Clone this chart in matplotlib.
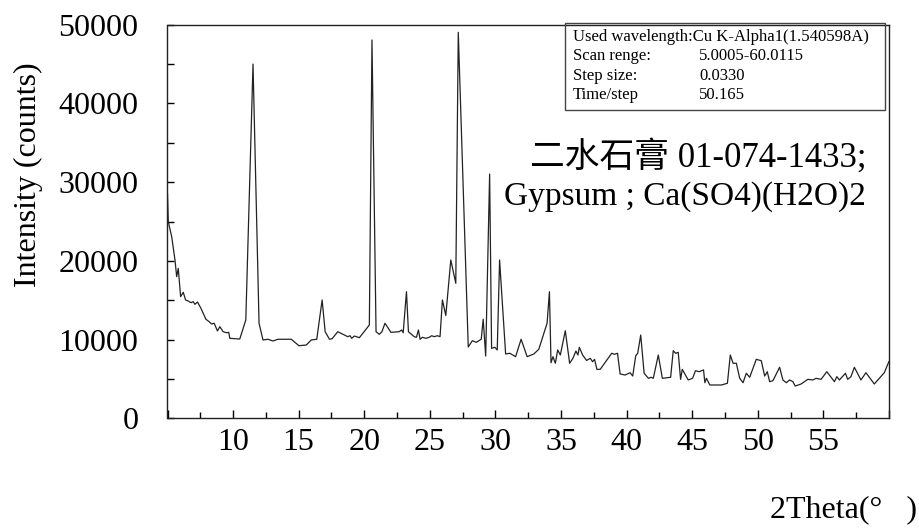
import matplotlib
matplotlib.use('Agg')
import matplotlib.pyplot as plt
from matplotlib.patches import Rectangle

plt.rcParams['font.family'] = ['Liberation Serif', 'Noto Sans CJK SC']

# values
two_theta = [5.00, 5.06, 5.32, 5.57, 5.70, 5.82, 6.00, 6.20, 6.38, 6.58, 6.79, 6.96, 7.09, 7.29,
             7.55, 7.93, 8.18, 8.36, 8.56, 8.81, 8.99, 9.24, 9.50, 9.67, 9.75, 10.51, 10.97, 11.52,
             11.98, 12.28, 12.66, 13.04, 13.42, 14.44, 15.02, 15.58, 15.96, 16.38, 16.79, 17.02,
             17.35, 17.55, 17.98, 18.49, 18.74, 18.92, 19.04, 19.25, 19.63, 20.39, 20.59, 20.90,
             21.15, 21.35, 21.58, 22.04, 22.67, 22.84, 22.97, 23.22, 23.37, 23.81, 23.98, 24.13,
             24.26, 24.44, 24.70, 24.95, 25.15, 25.33, 25.58, 25.78, 25.96, 26.22, 26.60, 26.98,
             27.17, 27.93, 28.24, 28.54, 28.92, 29.07, 29.26, 29.56, 29.71, 29.96, 30.14, 30.32,
             30.78, 31.10, 31.54, 31.96, 32.42, 32.93, 33.31, 33.94, 34.12, 34.24, 34.39, 34.57,
             34.75, 34.95, 35.33, 35.66, 35.91, 36.14, 36.29, 36.40, 36.65, 36.95, 37.23, 37.41,
             37.56, 37.74, 37.99, 38.87, 39.08, 39.31, 39.51, 39.89, 40.27, 40.47, 40.70, 40.85,
             41.08, 41.34, 41.67, 41.87, 42.04, 42.42, 42.73, 43.36, 43.56, 43.74, 43.94, 44.12,
             44.25, 44.70, 45.03, 45.26, 45.52, 45.87, 45.97, 46.09, 46.35, 47.23, 47.69, 47.91,
             48.12, 48.37, 48.63, 48.88, 49.13, 49.39, 49.89, 50.27, 50.53, 50.73, 50.91, 51.16,
             51.67, 51.92, 52.18, 52.43, 52.68, 52.86, 53.31, 53.82, 54.20, 54.45, 54.83, 55.27,
             55.60, 55.85, 56.03, 56.23, 56.69, 56.86, 57.11, 57.37, 57.87, 58.25, 58.89, 59.65,
             60.00]
counts = [28500, 24970, 23070, 20110, 17990, 19050, 15450, 16010, 15030, 14900, 14690, 14810, 14480, 14770,
          13970, 12580, 12270, 11980, 12070, 11090, 11640, 11000, 10870, 10920, 10160, 10070, 12490, 45000,
          12070, 9950, 10040, 9820, 10040, 10040, 9220, 9310, 9950, 10040, 15030, 11000,
          10040, 10110, 11000, 10580, 10370, 10490, 10160, 10450, 10240, 11850, 48060, 11000,
          10670, 11000, 12070, 10920, 11000, 11220, 10870, 16080, 11000, 10370, 10290, 11220,
          10040, 10290, 10160, 10290, 10490, 10370, 10490, 10370, 15030, 13060, 20110, 17150,
          49030, 9060, 9860, 9650, 10040, 12580, 7910, 31030, 8890, 9020, 8680, 20110,
          8170, 8260, 7830, 10040, 7830, 8170, 8770, 12070, 16080, 7060, 7830, 6990,
          8680, 8040, 11130, 6990, 7620, 8550, 8040, 9020, 8040, 7350, 7620, 7190,
          7490, 6220, 6220, 8260, 8130, 8260, 5630, 5500, 5790, 5370, 7950, 8260,
          10580, 5720, 5080, 5210, 5080, 8040, 5080, 5210, 8590, 8260, 8380, 4950,
          6220, 4870, 5080, 6050, 5920, 6140, 4520, 5080, 4230, 4230, 4450, 8040,
          6990, 6990, 5080, 4520, 5720, 5210, 7490, 7320, 5370, 5920, 4650, 4780,
          6480, 4870, 4520, 4870, 4650, 4100, 4360, 4950, 4870, 5080, 4950, 5920,
          5210, 4650, 5290, 4870, 5720, 4950, 5290, 6480, 4870, 5790, 4360, 5790,
          7190]

x_ticks = [5, 10, 15, 20, 25, 30, 35, 40, 45, 50, 55, 60]
x_labels = ['', '10', '15', '20', '25', '30', '35', '40', '45', '50', '55', '']
y_ticks = [0, 10000, 20000, 30000, 40000, 50000]

info_names = ['Used wavelength:Cu K-Alpha1(1.540598A)', 'Scan renge:', 'Step size:', 'Time/step']
info_values = ['', '5.0005-60.0115', '0.0330', '50.165']

W, H = 920, 530
fig = plt.figure(figsize=(W / 100, H / 100), dpi=100)
ax = fig.add_axes([167.5 / W, 1 - 418.3 / H, (889 - 167.5) / W, (418.3 - 24.7) / H])

ax.plot(two_theta, counts, color='#222222', lw=0.9)
ax.set_xlim(5, 60.01)
ax.set_ylim(0, 50000)

ax.set_xticks(x_ticks, x_labels)
ax.set_xticks([t + 2.5 for t in x_ticks[:-1]], minor=True)
ax.set_yticks(y_ticks, [str(v) for v in y_ticks])
ax.set_yticks([v + 5000 for v in y_ticks[:-1]], minor=True)
ax.tick_params(axis='x', which='major', direction='in', length=6, width=1, labelsize=23, pad=7)
ax.tick_params(axis='x', which='minor', direction='in', length=4.5, width=1)
ax.tick_params(axis='y', which='both', direction='in', length=5, width=1, labelsize=23, pad=21)
for s in ax.spines.values():
    s.set_linewidth(1)
    s.set_color('#222222')

fig.text(28 / W, 1 - 175 / H, 'Intensity (counts)', rotation=90, ha='center', va='center', fontsize=23)
fig.text(770 / W, 1 - 510 / H, '2Theta(°   )', ha='left', va='center', fontsize=23)

# info box
fig.add_artist(Rectangle((565 / W, 1 - 110 / H), (885 - 565) / W, (110 - 23.5) / H,
                         transform=fig.transFigure, fill=False, ec='#444444', lw=1))
for i, (name, val) in enumerate(zip(info_names, info_values)):
    yy = 1 - (37 + 19.4 * i) / H
    fig.text(573 / W, yy, name, ha='left', va='center', fontsize=12)
    if val:
        fig.text(699 / W, yy, val, ha='left', va='center', fontsize=12)

fig.text(698 / W, 1 - 157 / H, '二水石膏 01-074-1433;', ha='center', va='center', fontsize=25)
fig.text(685 / W, 1 - 197 / H, 'Gypsum ; Ca(SO4)(H2O)2', ha='center', va='center', fontsize=24)

fig.savefig('out.png', dpi=100)
